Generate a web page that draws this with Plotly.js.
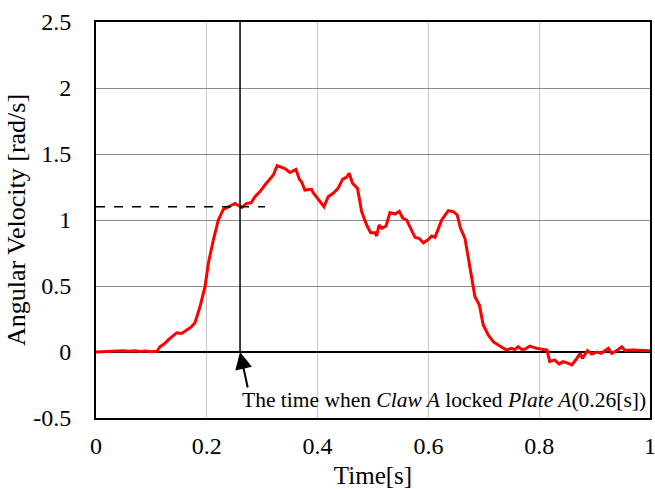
<!DOCTYPE html>
<html>
<head>
<meta charset="utf-8">
<script src="https://cdn.plot.ly/plotly-3.0.1.min.js"></script>
<style>html,body{margin:0;padding:0;background:#fff;}#chart{width:655px;height:489px;}</style>
</head>
<body>
<div id="chart"></div>
<script>
const timeS = [0,0.02,0.049,0.06,0.07,0.08,0.09,0.10,0.11,0.1155,0.1245,0.13,0.1366,0.1456,0.1546,0.1637,0.172,0.1787,0.1877,0.1968,0.2028,0.2118,0.2208,0.2298,0.2388,0.251,0.257,0.263,0.272,0.28,0.287,0.296,0.305,0.314,0.32,0.327,0.341,0.350,0.356,0.361,0.367,0.371,0.377,0.389,0.392,0.401,0.4116,0.419,0.428,0.437,0.445,0.4525,0.457,0.463,0.472,0.4795,0.4886,0.4958,0.5036,0.5066,0.511,0.5157,0.5235,0.5307,0.5397,0.5475,0.5536,0.5608,0.5698,0.5758,0.5836,0.5908,0.5998,0.606,0.612,0.624,0.636,0.645,0.652,0.658,0.666,0.675,0.684,0.692,0.699,0.708,0.717,0.726,0.732,0.741,0.75,0.756,0.762,0.768,0.774,0.783,0.795,0.810,0.814,0.819,0.828,0.836,0.843,0.853,0.859,0.868,0.874,0.878,0.887,0.895,0.904,0.912,0.925,0.931,0.94,0.949,0.955,0.967,0.98,0.991,1.0];
const angularVelocity = [0,0.003,0.01,0.005,0.01,0.003,0.008,0.002,0.005,0.04,0.066,0.09,0.116,0.146,0.14,0.167,0.19,0.222,0.343,0.495,0.672,0.848,1.0,1.081,1.10,1.126,1.11,1.096,1.126,1.13,1.177,1.215,1.265,1.316,1.341,1.412,1.39,1.36,1.375,1.384,1.308,1.29,1.227,1.232,1.207,1.157,1.101,1.177,1.202,1.24,1.308,1.325,1.354,1.278,1.24,1.063,0.962,0.904,0.904,0.879,0.962,0.937,0.955,1.056,1.045,1.066,1.015,1.0,0.924,0.869,0.86,0.828,0.852,0.879,0.869,1.0,1.071,1.063,1.038,0.937,0.861,0.646,0.419,0.356,0.205,0.129,0.078,0.053,0.04,0.015,0.028,0.018,0.04,0.02,0.02,0.045,0.028,0.015,0.015,-0.073,-0.06,-0.091,-0.073,-0.086,-0.098,-0.048,-0.01,-0.048,0.01,-0.015,0.0,-0.01,0.028,-0.01,0.01,0.04,0.012,0.015,0.015,0.015,0.01];
const xTickVals = [0,0.2,0.4,0.6,0.8,1];
const xTickText = ["0","0.2","0.4","0.6","0.8","1"];
const yTickVals = [-0.5,0,0.5,1,1.5,2,2.5];
const yTickText = ["-0.5","0","0.5","1","1.5","2","2.5"];
const lockTime = 0.26;
const lockVelocity = 1.1;
const dashEnd = 0.305;

const FONT = 'Liberation Serif, Times New Roman, serif';

const trace = {
  x: timeS, y: angularVelocity, type: 'scatter', mode: 'lines',
  line: {color: '#ff0000', width: 3}, hoverinfo: 'skip'
};

const layout = {
  width: 655, height: 489,
  margin: {l: 96, r: 5, t: 22, b: 71},
  paper_bgcolor: '#fff', plot_bgcolor: '#fff',
  font: {family: FONT, size: 24, color: '#000'},
  showlegend: false,
  xaxis: {
    range: [0, 1], tickvals: xTickVals, ticktext: xTickText,
    showgrid: true, gridcolor: '#c8c8c8', gridwidth: 1,
    zeroline: false, showline: true, mirror: true, linecolor: '#000', linewidth: 2,
    ticks: 'outside', ticklen: 5, tickcolor: 'rgba(0,0,0,0)',
    ticklabeloverflow: 'allow',
    title: {text: 'Time[s]', font: {size: 25}, standoff: 14}
  },
  yaxis: {
    range: [-0.5, 2.5], tickvals: yTickVals, ticktext: yTickText,
    showgrid: true, gridcolor: '#8a8a8a', gridwidth: 1,
    zeroline: true, zerolinecolor: '#000', zerolinewidth: 2,
    showline: true, mirror: true, linecolor: '#000', linewidth: 2,
    ticks: 'outside', ticklen: 18, tickcolor: 'rgba(0,0,0,0)',
    title: {text: 'Angular Velocity [rad/s]', font: {size: 26}, standoff: 0}
  },
  shapes: [
    {type: 'line', xref: 'x', yref: 'y', x0: lockTime, x1: lockTime, y0: 0, y1: 2.5,
     line: {color: '#000', width: 1.5}},
    {type: 'line', xref: 'x', yref: 'y', x0: 0, x1: dashEnd, y0: lockVelocity, y1: lockVelocity,
     line: {color: '#000', width: 1.5, dash: 'dash'}}
  ],
  annotations: [
    {x: lockTime, y: 0, xref: 'x', yref: 'y', text: '', showarrow: true,
     arrowhead: 2, arrowsize: 1.7, arrowwidth: 2, arrowcolor: '#000',
     ax: 8, ay: 37, standoff: 0},
    {x: lockTime, y: -0.364, xref: 'x', yref: 'y', xanchor: 'left', yanchor: 'middle',
     text: 'The time when <i>Claw A</i> locked <i>Plate A</i>(0.26[s])', showarrow: false,
     font: {size: 21.5}}
  ]
};

Plotly.newPlot('chart', [trace], layout, {displayModeBar: false});
</script>
</body>
</html>
